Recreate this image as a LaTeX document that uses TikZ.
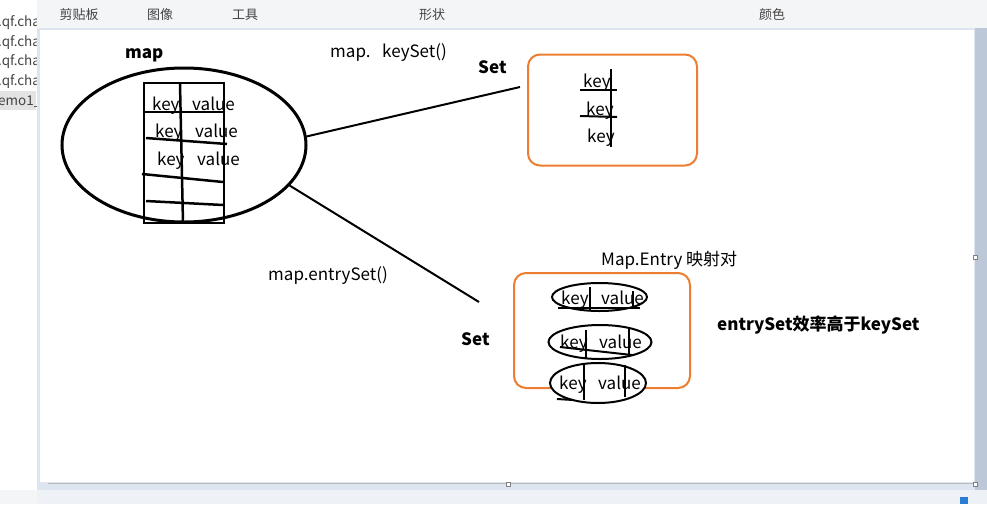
\documentclass[tikz,border=0pt]{standalone}
\usepackage{fontspec}
\setmainfont{Noto Sans CJK SC}
\usetikzlibrary{shapes.geometric}
\definecolor{orng}{HTML}{ED7D31}
\definecolor{wsbg}{HTML}{DCE5F0}
\definecolor{rsb}{HTML}{BCC8D8}
\definecolor{ribbon}{HTML}{F4F5F7}
\definecolor{statbg}{HTML}{EEF1F5}
\definecolor{uitext}{HTML}{444444}
\definecolor{selbg}{HTML}{E3E3E3}
\definecolor{zoomblue}{HTML}{2B7CD3}
\begin{document}
\begin{tikzpicture}[x=1pt,y=-1pt,
  txt/.style={inner sep=0pt, anchor=base west, font=\fontsize{17}{20}\selectfont},
  btxt/.style={inner sep=0pt, anchor=base west, font=\fontsize{17}{20}\selectfont\bfseries},
  uilabel/.style={inner sep=0pt, text=uitext, font=\fontsize{13}{15}\selectfont},
  filelabel/.style={inner sep=0pt, anchor=base west, text=uitext, font=\fontsize{13.5}{15}\selectfont},
  ink/.style={line width=2pt, black},
  tbl/.style={line width=2.5pt, black},
  orangebox/.style={draw=orng, line width=2pt, rounded corners=12pt, inner sep=0pt},
  pair/.style={ellipse, draw=black, fill=white, line width=2pt, inner sep=0pt},
  handle/.style={draw=gray, fill=white, line width=0.8pt}
]
\useasboundingbox (0,0) rectangle (987,504);
% ---------- window chrome ----------
\fill[ribbon] (0,0) rectangle (987,504);
\fill[white] (0,0) rectangle (37,490);
\fill[selbg] (0,91) rectangle (36,110);
\begin{scope}
  \clip (0,0) rectangle (36,490);
  \node[filelabel] (f1) at (-2,26) {.qf.chart};
  \node[filelabel] (f2) at (-2,46) {.qf.chart};
  \node[filelabel] (f3) at (-2,65) {.qf.chart};
  \node[filelabel] (f4) at (-2,85) {.qf.chart};
  \node[filelabel] (f5) at (-2,105) {emo1\_java};
\end{scope}
\node[uilabel] (r1) at (79,15) {剪贴板};
\node[uilabel] (r2) at (160,15) {图像};
\node[uilabel] (r3) at (245,15) {工具};
\node[uilabel] (r4) at (432,15) {形状};
\node[uilabel] (r5) at (772,15) {颜色};
\fill[wsbg] (37,28) rectangle (987,490);
\fill[rsb] (975,28) rectangle (987,490);
\fill[white] (40,30) rectangle (974,482);
\draw[gray!55, line width=1.5pt] (48,483.5) -- (974,483.5);
\draw[handle] (506,482) rectangle (510,486);
\draw[handle] (973,482) rectangle (977,486);
\draw[handle] (973,255) rectangle (977,259);
\fill[statbg] (37,490) rectangle (987,504);
\fill[zoomblue] (960,497) rectangle (968,504);
% ---------- drawing ----------
\node[btxt] (maplbl) at (125,58) {map};
\node[ellipse, draw=black, line width=3pt, minimum width=244pt, minimum height=154pt, inner sep=0pt] (mapell) at (184,145) {};
\draw[tbl] (144,83) rectangle (224,223);
\draw[tbl] (180,84) -- (183,223);
\draw[tbl] (144,112) -- (224,112);
\node[txt] (k1) at (152,110) {key};
\node[txt] (v1) at (192,110) {value};
\node[txt] (k2) at (155,137) {key};
\node[txt] (v2) at (195,137) {value};
\node[txt] (k3) at (157,165) {key};
\node[txt] (v3) at (197,165) {value};
\draw[tbl] (146,138) -- (227,144);
\draw[tbl] (142,174) -- (223,182);
\draw[tbl] (146,201) -- (223,205);

\node[txt] (ksm) at (330,57) {map.};
\node[txt] (ksf) at (382,57) {keySet()};
\node[btxt] (set1) at (478,73) {Set};
\node[orangebox, minimum width=169pt, minimum height=111pt] (setbox) at (612.5,110) {};
\node[txt] (sk1) at (583,87) {key};
\node[txt] (sk2) at (586,115) {key};
\node[txt] (sk3) at (587,142) {key};
\draw[ink] (611,69) -- (611,147);
\draw[ink] (580,90) -- (617,90);
\draw[ink] (580,116) -- (617,117);
\coordinate (kend) at (520,87);
\draw[ink] (mapell.4) -- (kend);

\node[txt] (esf) at (268,280) {map.entrySet()};
\coordinate (eend) at (479,302);
\draw[ink] (mapell.-21.6) -- (eend);
\node[btxt] (set2) at (461,345) {Set};
\node[txt] (melbl) at (601,265) {Map.Entry 映射对};
\node[orangebox, minimum width=176pt, minimum height=115pt] (entrybox) at (602,330.5) {};
\node[pair, minimum width=95pt, minimum height=28pt] (p1) at (599.5,297) {};
\node[pair, minimum width=103pt, minimum height=34pt] (p2) at (600,342) {};
\node[pair, minimum width=96pt, minimum height=40pt] (p3) at (598,383) {};
\node[txt] (pk1) at (561,304) {key};
\node[txt] (pv1) at (601,304) {value};
\node[txt] (pk2) at (560,348) {key};
\node[txt] (pv2) at (599,348) {value};
\node[txt] (pk3) at (559,389) {key};
\node[txt] (pv3) at (598,389) {value};
\draw[ink] (590,287) -- (590,311);
\draw[ink] (633,291) -- (633,309);
\draw[ink] (558,308) -- (640,308);
\draw[ink] (586,330) -- (586,358);
\draw[ink] (629,327) -- (629,357);
\draw[ink] (560,347) -- (632,355);
\draw[ink] (584,364) -- (584,400);
\draw[ink] (625,365) -- (625,397);
\draw[ink] (557,399) -- (573,400);
\node[btxt] (note) at (717,330) {entrySet效率高于keySet};
\end{tikzpicture}
\end{document}
